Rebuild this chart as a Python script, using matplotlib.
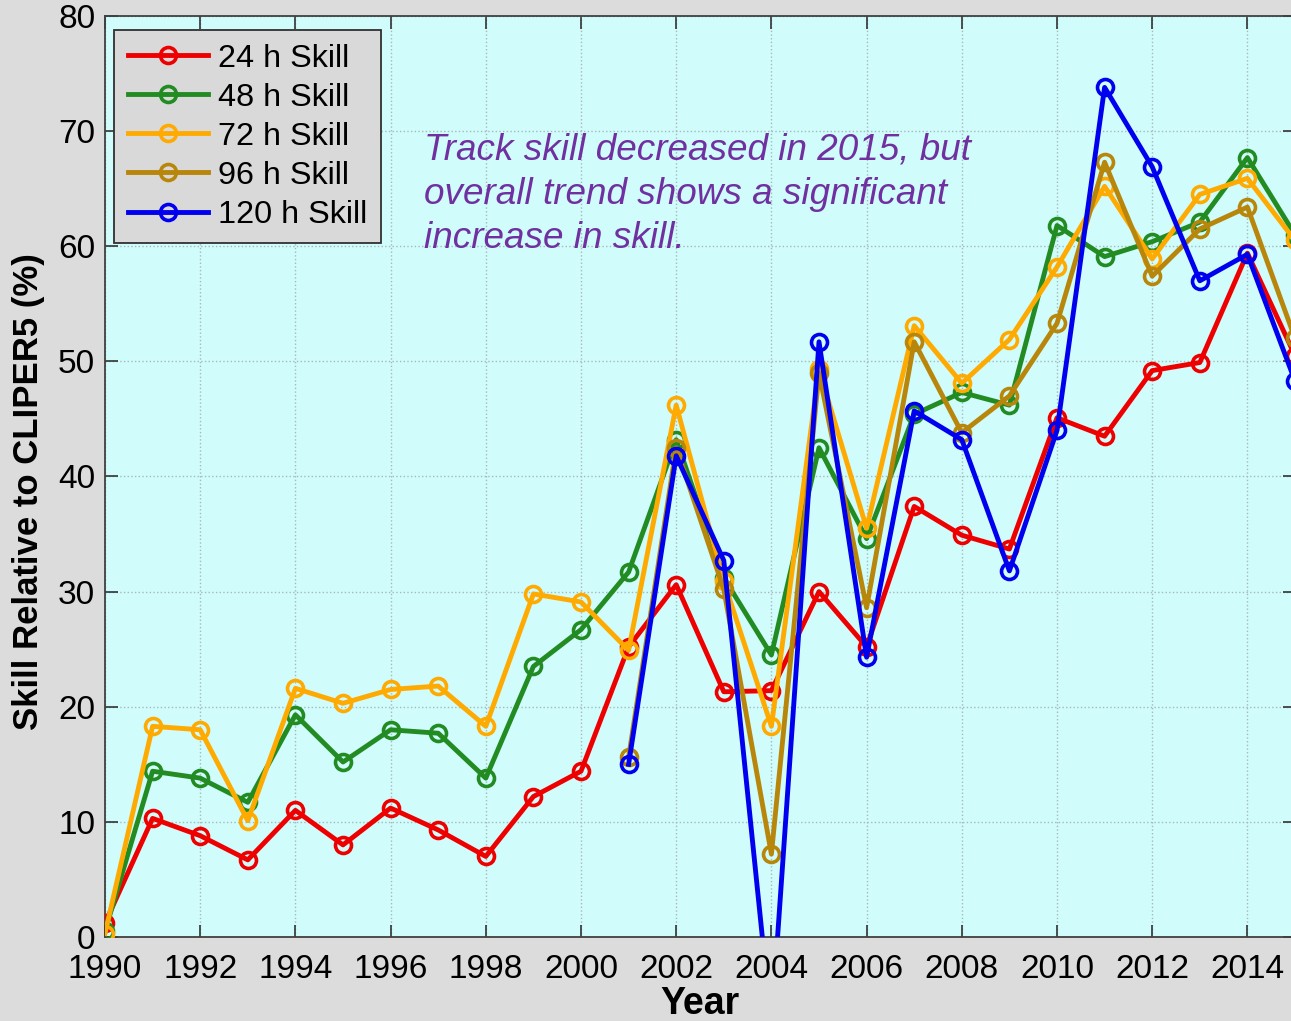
import matplotlib
matplotlib.use("Agg")
import matplotlib.pyplot as plt
import numpy as np

plt.rcParams['font.family'] = ['Liberation Sans', 'DejaVu Sans']

years = list(range(1990, 2016))
years_long_range = list(range(2001, 2016))

skill_24 = [1.2, 10.3, 8.8, 6.7, 11.0, 8.0, 11.2, 9.3, 7.0, 12.2, 14.4, 25.2, 30.6,
            21.3, 21.4, 30.0, 25.2, 37.4, 34.9, 33.7, 45.1, 43.5, 49.2, 49.9, 59.4, 50.5]
skill_48 = [0.5, 14.4, 13.8, 11.7, 19.3, 15.2, 18.0, 17.7, 13.8, 23.5, 26.7, 31.7, 43.2,
            31.2, 24.5, 42.5, 34.6, 45.4, 47.3, 46.2, 61.8, 59.1, 60.4, 62.1, 67.7, 61.0]
skill_72 = [0.3, 18.3, 18.0, 10.1, 21.6, 20.3, 21.5, 21.8, 18.3, 29.8, 29.1, 24.9, 46.2,
            30.9, 18.3, 49.3, 35.5, 53.1, 48.1, 51.9, 58.2, 65.2, 58.9, 64.5, 65.9, 60.5]
skill_96 = [15.6, 42.5, 30.2, 7.2, 49.0, 28.6, 51.7, 43.8, 47.0, 53.3, 67.3, 57.4, 61.5, 63.4, 52.0]
skill_120 = [15.0, 41.8, 32.7, -7.7, 51.7, 24.3, 45.7, 43.2, 31.8, 44.0, 73.8, 66.9, 57.0, 59.3, 48.3]

labels = ['24 h Skill', '48 h Skill', '72 h Skill', '96 h Skill', '120 h Skill']
colors = ['#ee0000', '#228b22', '#ffaa00', '#b8860b', '#0000ee']

xticks = list(range(1990, 2015, 2))
yticks = list(range(0, 81, 10))

annotation = "Track skill decreased in 2015, but\noverall trend shows a significant\nincrease in skill."

W, H = 1291, 1021
fig = plt.figure(figsize=(W / 100, H / 100), dpi=100, facecolor='#dcdcdc')
ax_left, ax_right, ax_top, ax_bottom = 105, 1295, 16, 937
ax = fig.add_axes([ax_left / W, 1 - ax_bottom / H, (ax_right - ax_left) / W, (ax_bottom - ax_top) / H])
ax.set_facecolor('#d0fcfc')

series = [(years, skill_24), (years, skill_48), (years, skill_72),
          (years_long_range, skill_96), (years_long_range, skill_120)]
for (xs, ys), lab, c in zip(series, labels, colors):
    ax.plot(xs, ys, '-o', color=c, lw=3.5, ms=11.5, mfc='none', mew=2.6, label=lab, zorder=3)

ax.set_xlim(1990, 2015)
ax.set_ylim(0, 80)
ax.set_xticks(xticks)
ax.set_yticks(yticks)
ax.tick_params(direction='in', length=9, width=1.2, top=True, right=True,
               labelsize=24, colors='#333333', labelcolor='black')
ax.tick_params(axis='x', pad=12)
ax.tick_params(axis='y', pad=7)
ax.grid(True, linestyle=':', color='#a8b8b8', linewidth=1.0)
ax.set_axisbelow(True)
for s in ax.spines.values():
    s.set_color('#404040')
    s.set_linewidth(1.3)

ax.set_xlabel('Year', fontsize=27, fontweight='bold', va='center')
ax.xaxis.set_label_coords(0.5, (ax_bottom - 1004) / (ax_bottom - ax_top))
ax.set_ylabel('Skill Relative to CLIPER5 (%)', fontsize=25, fontweight='bold', va='center')
ax.yaxis.set_label_coords((29 - ax_left) / (ax_right - ax_left), (ax_bottom - 492) / (ax_bottom - ax_top))

ax.text((424 - ax_left) / (ax_right - ax_left), (ax_bottom - 132) / (ax_bottom - ax_top), annotation,
        transform=ax.transAxes, fontsize=26.6, style='italic', color='#7030a0',
        ha='left', va='top', linespacing=1.36, zorder=4)

leg = ax.legend(loc='upper left', bbox_to_anchor=(114 / W, 1 - 30 / H), bbox_transform=fig.transFigure,
                fontsize=23.3, frameon=True, fancybox=False, framealpha=1, facecolor='#d9d9d9',
                edgecolor='#303030', borderaxespad=0, handlelength=2.5, handletextpad=0.3,
                labelspacing=0.28, borderpad=0.42)
leg.get_frame().set_linewidth(1.3)

fig.savefig('out.png', dpi=100, facecolor=fig.get_facecolor())
